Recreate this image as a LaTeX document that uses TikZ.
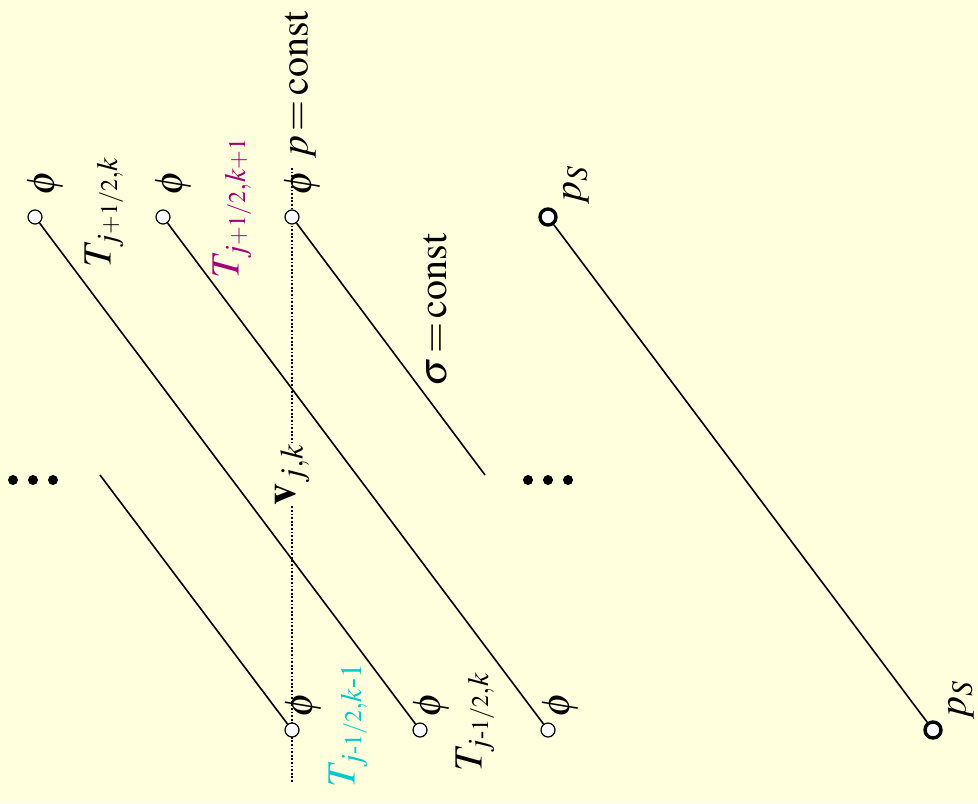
\documentclass[tikz,border=0pt]{standalone}
\usepackage{mathptmx}
\usepackage[no-math]{fontspec}
\setmainfont{Liberation Serif}
\usepackage{amsmath}
\usepackage{tikz}
\usetikzlibrary{positioning}
\definecolor{colBg}{RGB}{255,255,221}
\definecolor{colMag}{RGB}{160,0,120}
\definecolor{colCyan}{RGB}{0,200,205}
\definecolor{colPt}{RGB}{250,250,255}
\tikzset{
  gpoint/.style={
    draw, circle, fill=colPt, inner sep=0pt,
    minimum size=7pt, line width=0.6pt
  },
  spoint/.style={
    draw, circle, fill=colPt, inner sep=0pt,
    minimum size=8pt, line width=1.7pt
  },
  bigdot/.style={
    circle, fill=black, inner sep=0pt, minimum size=5pt
  },
  sigline/.style={
    draw, line width=0.8pt
  },
  pline/.style={
    draw, line width=0.7pt, dash pattern=on 0.9pt off 0.9pt
  },
  lbl/.style={
    rotate=90, inner sep=0pt, font=\fontsize{20}{24}\selectfont
  },
}

\begin{document}
\begin{tikzpicture}[x=0.5pt, y=-0.5pt]

% ── Frame ──────────────────────────────────────────────────────────────────
\fill[colBg] (0,0) rectangle (978,803);
\useasboundingbox (0,0) rectangle (978,803);

% ── p = const (dotted) ─────────────────────────────────────────────────────
\coordinate (ptop) at (292,168);
\coordinate (pbot) at (292,783);
\draw[pline] (ptop) -- node[lbl, fill=colBg, inner ysep=3pt, xshift=0.5pt,
  font=\fontsize{22}{26}\selectfont]{$\mathbf{v}_{j,k}$} (pbot);

% ── Nodes ──────────────────────────────────────────────────────────────────
% top row
\node[gpoint] (a1) at (35,217) {};
\node[gpoint] (a2) at (163,217) {};
\node[gpoint] (a3) at (292,217) {};
\node[spoint] (s1) at (548,217) {};

% bottom row
\node[gpoint] (b1) at (292,730) {};
\node[gpoint] (b2) at (420,730) {};
\node[gpoint] (b3) at (548,730) {};
\node[spoint] (s2) at (933,730) {};

% free ends
\coordinate (e1) at (485,475);
\coordinate (e2) at (100,475);

% ── sigma = const lines ────────────────────────────────────────────────────
\draw[sigline] (a1) -- (b2);
\draw[sigline] (a2) -- (b3);
\draw[sigline] (a3) -- (e1);
\draw[sigline] (e2) -- (b1);
\draw[sigline] (s1) -- (s2);

% ── Labels ─────────────────────────────────────────────────────────────────
\node[lbl] (phia1) at (46,183) {$\phi$};
\node[lbl] (phia2) at (174,183) {$\phi$};
\node[lbl] (phia3) at (303,183) {$\phi$};
\node[lbl] (phib1) at (304,705) {$\phi$};
\node[lbl] (phib2) at (432,705) {$\phi$};
\node[lbl] (phib3) at (561,705) {$\phi$};

\node[lbl] (pconst) at (300,85) {$p\,{=}\,\mathrm{const}$};
\node[lbl] (sconst) at (435,310) {$\sigma\!=\!\mathrm{const}$};

\node[lbl] (tjpk) at (104,212) {$T_{j{\scriptscriptstyle+1/2},k}$};
\node[lbl, colMag] (tjpk1) at (232,208) {$T_{j{\scriptscriptstyle+1/2},k{\scriptscriptstyle+1}}$};
\node[lbl, colCyan] (tjmk1) at (348,725) {$T_{j{\scriptscriptstyle\text{-}1/2},k\text{-}1}$};
\node[lbl] (tjmk) at (475,722) {$T_{j{\scriptscriptstyle\text{-}1/2},k}$};

\node[lbl] (ps1) at (576,185) {$p_S$};
\node[lbl] (ps2) at (961,700) {$p_S$};

% ellipsis dots
\foreach \i/\dx in {1/-20,2/0,3/20} {
  \node[bigdot] (dotL\i) at (33+\dx,480) {};
  \node[bigdot] (dotR\i) at (548+\dx,480) {};
}

\end{tikzpicture}
\end{document}
